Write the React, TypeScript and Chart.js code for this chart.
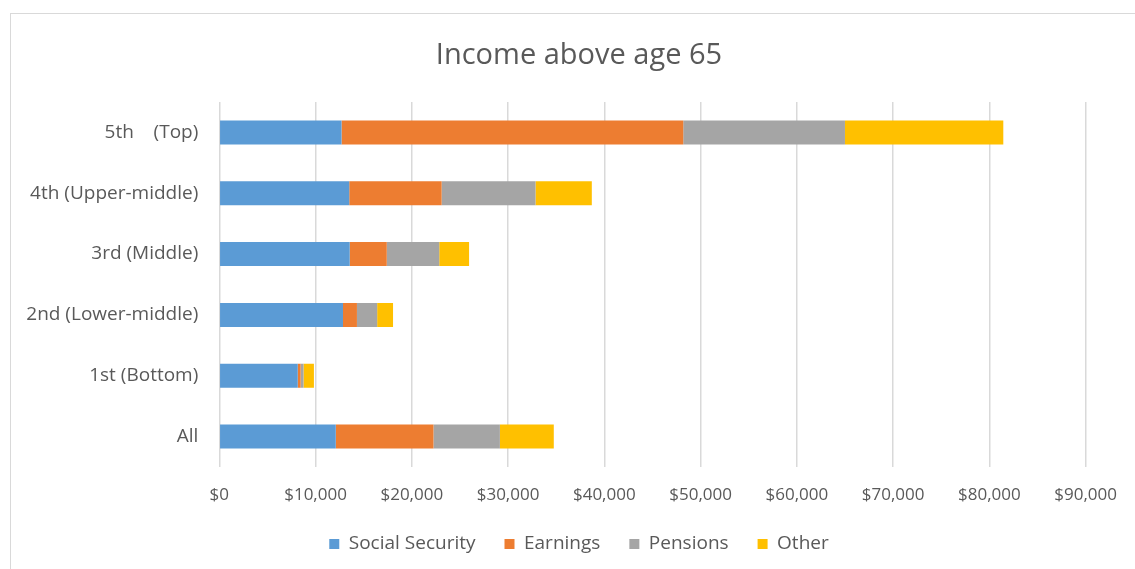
import React, { useEffect, useRef } from "react";
import { Chart, registerables } from "chart.js";

Chart.register(...registerables);

const categories = [
  "5th    (Top)",
  "4th (Upper-middle)",
  "3rd (Middle)",
  "2nd (Lower-middle)",
  "1st (Bottom)",
  "All",
];
const socialSecurity = [12700, 13500, 13550, 12850, 8150, 12100];
const earnings = [35500, 9600, 3850, 1450, 300, 10150];
const pensions = [16800, 9750, 5450, 2100, 300, 6900];
const other = [16450, 5850, 3100, 1650, 1080, 5600];
const xTicksMax = 90000;
const xTickStep = 10000;

const FONT = "'Open Sans', 'DejaVu Sans', sans-serif";
const TEXT = "#595959";

export default function App() {
  const ref = useRef<HTMLCanvasElement | null>(null);

  useEffect(() => {
    if (!ref.current) return;
    const chart = new Chart(ref.current, {
      type: "bar",
      data: {
        labels: categories,
        datasets: [
          { label: "Social Security", data: socialSecurity, backgroundColor: "#5B9BD5", yAxisID: "y" },
          { label: "Earnings", data: earnings, backgroundColor: "#ED7D31", yAxisID: "y" },
          { label: "Pensions", data: pensions, backgroundColor: "#A5A5A5", yAxisID: "y" },
          { label: "Other", data: other, backgroundColor: "#FFC000", yAxisID: "y" },
        ],
      },
      options: {
        indexAxis: "y",
        responsive: false,
        animation: false,
        maintainAspectRatio: false,
        datasets: {
          bar: { barPercentage: 0.395, categoryPercentage: 1 },
        },
        layout: { padding: { left: 0, right: 0, top: 0, bottom: 5.5 } },
        plugins: {
          title: {
            display: true,
            text: "Income above age 65",
            color: TEXT,
            font: { family: FONT, size: 29, weight: "normal" },
            padding: { top: 24.6, bottom: 28.6 },
          },
          legend: {
            position: "bottom",
            labels: {
              color: TEXT,
              font: { family: FONT, size: 19 },
              boxWidth: 10,
              boxHeight: 10,
              padding: 29,
            },
          },
          tooltip: { enabled: false },
        },
        scales: {
          x: {
            stacked: true,
            min: 0,
            max: xTicksMax,
            grid: { color: "#d9d9d9", lineWidth: 1.5, drawTicks: false },
            border: { display: false },
            ticks: {
              stepSize: xTickStep,
              color: TEXT,
              font: { family: FONT, size: 17 },
              padding: 18,
              callback: (v: any) => "$" + Number(v).toLocaleString("en-US"),
            },
            afterFit: (s: any) => {
              s.height = 38.5;
            },
          },
          y: {
            stacked: true,
            position: "left",
            grid: { display: false, drawTicks: false },
            border: { display: false },
            ticks: {
              color: TEXT,
              font: { family: FONT, size: 19 },
              padding: 21,
            },
            afterFit: (s: any) => {
              s.width = 208.3;
            },
          },
          yRight: {
            type: "category",
            position: "right",
            display: true,
            grid: { display: false, drawTicks: false },
            border: { display: false },
            ticks: { display: false },
            afterFit: (s: any) => {
              s.width = 61.4;
            },
          },
        },
      },
    });
    return () => chart.destroy();
  }, []);

  return (
    <div
      style={{
        position: "fixed",
        left: 0,
        top: 0,
        width: 1135,
        height: 569,
        overflow: "hidden",
        background: "#fff",
      }}
    >
      <div
        style={{
          position: "absolute",
          left: 10,
          top: 13,
          width: 1160,
          height: 600,
          borderTop: "1px solid #d9d9d9",
          borderLeft: "1px solid #d9d9d9",
        }}
      >
        <canvas ref={ref} width={1136} height={555} style={{ display: "block" }} />
      </div>
    </div>
  );
}
